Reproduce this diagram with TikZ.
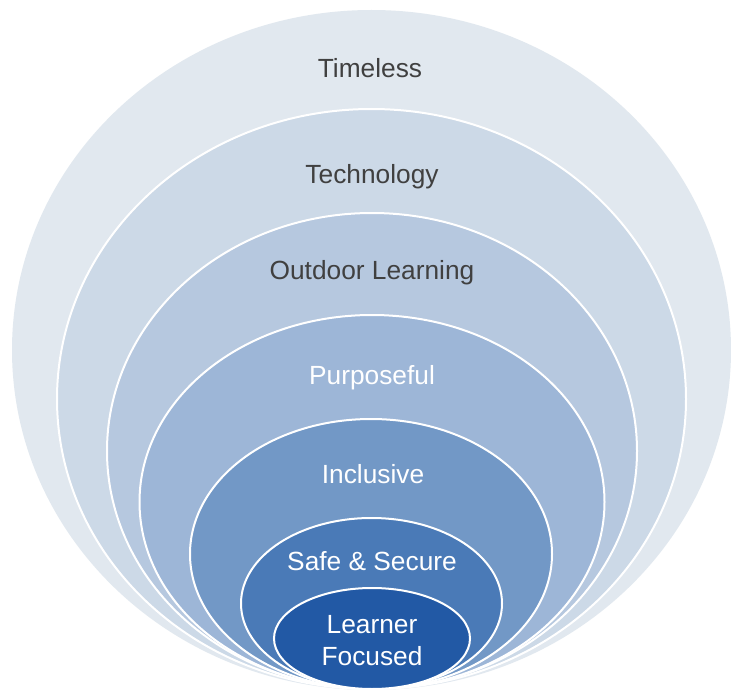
\documentclass[tikz,border=0pt]{standalone}
\usepackage{fontspec}
\setmainfont{Liberation Sans}
\definecolor{c1}{HTML}{E1E8EF}
\definecolor{c2}{HTML}{CCD9E7}
\definecolor{c3}{HTML}{B6C8DF}
\definecolor{c4}{HTML}{9DB6D7}
\definecolor{c5}{HTML}{7298C6}
\definecolor{c6}{HTML}{4A7AB7}
\definecolor{c7}{HTML}{2259A5}
\definecolor{darktxt}{HTML}{404040}
\tikzset{
  ring/.style={draw=white, line width=2pt},
  lbl/.style={font=\fontsize{26.3}{32}\selectfont, align=center, inner sep=0pt},
  darklbl/.style={lbl, text=darktxt},
  lightlbl/.style={lbl, text=white}
}
\begin{document}
\begin{tikzpicture}[x=1pt,y=-1pt]
\useasboundingbox (0,0) rectangle (731,690);
\fill[white] (0,0) rectangle (731,690);
\fill[c1] (371.5,350) ellipse [x radius=359.5, y radius=340];
\filldraw[ring, fill=c2] (371.5,399) ellipse [x radius=314.5, y radius=290];
\filldraw[ring, fill=c3] (372,451) ellipse [x radius=265, y radius=238];
\filldraw[ring, fill=c4] (372,502) ellipse [x radius=232.5, y radius=187];
\filldraw[ring, fill=c5] (371,554) ellipse [x radius=181, y radius=135];
\filldraw[ring, fill=c6] (371.5,603.5) ellipse [x radius=130.5, y radius=85.5];
\filldraw[ring, fill=c7] (372,638.5) ellipse [x radius=98, y radius=50.5];
\node[darklbl] (t1) at (370,68) {Timeless};
\node[darklbl] (t2) at (372,177) {Technology};
\node[darklbl] (t3) at (372,273) {Outdoor Learning};
\node[lightlbl] (t4) at (372,378) {Purposeful};
\node[lightlbl] (t5) at (373,474) {Inclusive};
\node[lightlbl] (t6) at (372,561) {Safe \& Secure};
\node[lightlbl] (t7) at (372,641) {Learner\\Focused};
\end{tikzpicture}
\end{document}
